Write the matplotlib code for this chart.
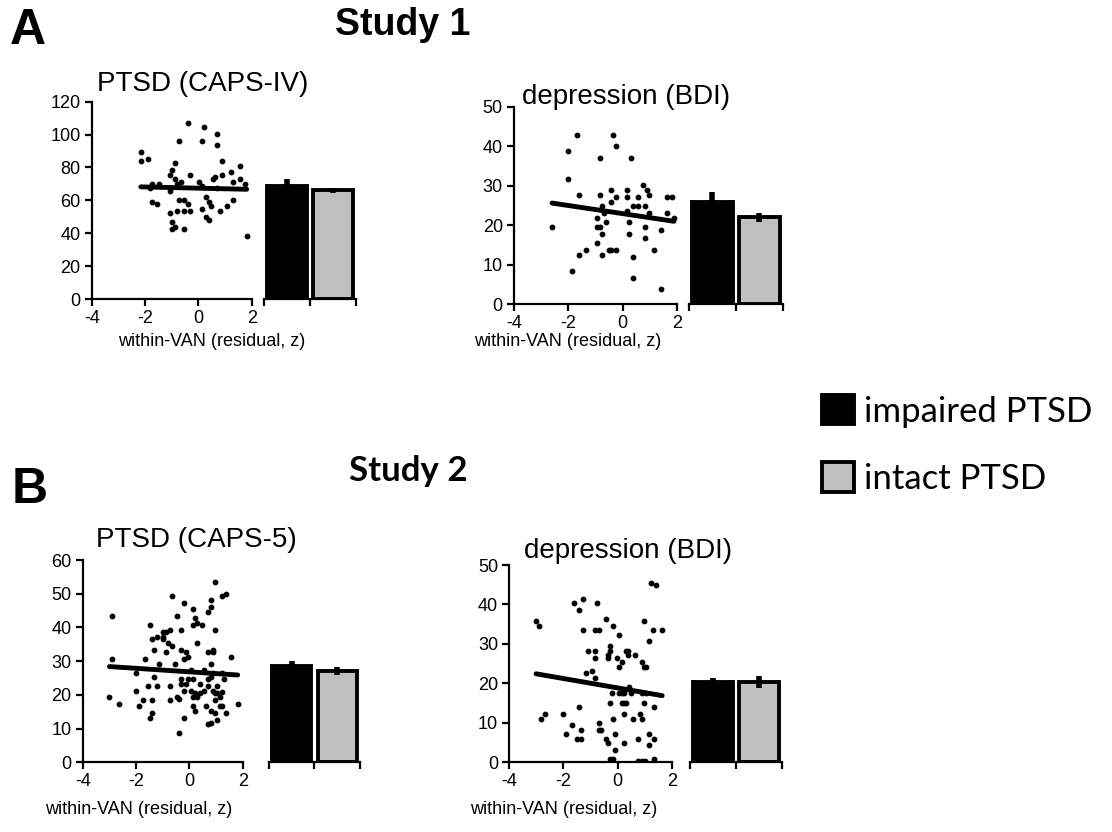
import matplotlib
matplotlib.use("Agg")
import matplotlib.pyplot as plt
from matplotlib.patches import Patch
import numpy as np

plt.rcParams['font.family'] = ['Liberation Sans', 'DejaVu Sans']
plt.rcParams['axes.unicode_minus'] = False

# Study 1, PTSD (CAPS-IV)
a1_x = [-2.16, -2.16, -1.9, -1.74, -1.81, -1.48, -1.74, -1.56, -1.06, -0.98, -0.89, -0.71, -0.89, -0.8,
        -0.64, -1.06, -0.73, -0.55, -1.06, -0.8, -0.55, -0.98, -0.89, -0.98, -0.55, -0.38, -0.3, -0.38,
        -0.3, 0.04, 0.13, 0.13, 0.21, 0.13, 0.3, 0.39, 0.46, 0.3, 0.39, 0.55, 0.64, 0.71, 0.71, 0.89,
        0.89, 0.8, 1.06, 1.23, 1.31, 1.31, 1.56, 1.56, 1.73, 1.81, 0.71]
a1_y = [89.1, 83.8, 85.2, 70.2, 67.3, 70.2, 59.0, 57.8, 75.7, 78.3, 82.6, 95.9, 72.8, 70.2,
        71.4, 65.9, 60.4, 60.4, 52.1, 53.5, 53.5, 46.7, 44.0, 42.6, 42.6, 107.1, 75.7, 57.8,
        53.5, 71.4, 68.8, 95.9, 104.3, 55.0, 61.9, 59.0, 56.4, 49.7, 48.1, 72.8, 74.2, 100.4, 93.5, 83.8,
        75.7, 53.5, 56.4, 77.1, 71.4, 60.4, 81.1, 72.8, 70.2, 38.5, 67.3]
a1_fit = (-0.37, 67.4)
a1_bars = [69, 66]
a1_err = [4, 1.3]

# Study 1, depression (BDI)
a2_x = [-2.6, -2.01, -1.69, -2.01, -1.6, -1.86, -1.6, -1.34, -0.85, -0.85, -0.77, -0.43, -0.43, -0.26,
        -0.35, -0.26, -0.94, -0.94, -0.85, -0.61, -0.77, -0.94, -0.77, -0.52, -0.43, -0.26, -0.68, 0.15,
        0.15, 0.15, 0.32, 0.39, 0.56, 0.56, 0.24, 0.24, 0.39, 0.39, 0.74, 0.9, 0.98, 0.81, 0.98, 0.81,
        0.81, 1.14, 1.4, 1.4, 1.65, 1.82, 1.65, 1.89]
a2_y = [19.5, 38.9, 43.0, 31.8, 27.7, 8.5, 12.5, 13.7, 37.1, 27.7, 24.8, 29.0, 26.0, 27.1,
        43.0, 40.0, 21.9, 19.5, 19.5, 20.7, 17.8, 15.5, 12.5, 13.7, 13.7, 13.7, 23.1, 29.0,
        27.1, 23.7, 37.1, 24.8, 27.1, 24.8, 20.7, 17.8, 12.0, 6.7, 30.1, 29.0, 27.7, 24.8, 23.1, 19.5,
        16.7, 13.7, 18.9, 3.7, 27.1, 27.1, 23.1, 21.9]
a2_fit = (-1.03, 22.94)
a2_bars = [26, 22]
a2_err = [2.5, 1.2]

# Study 2, PTSD (CAPS-5)
b1_x = [-2.91, -2.91, -3.0, -2.65, -1.99, -1.99, -1.9, -1.74, -1.65, -1.56, -1.48, -1.39, -1.39, -1.48,
        -1.39, -1.31, -1.31, -1.22, -1.22, -1.14, -0.98, -0.89, -0.98, -0.98, -0.89, -0.81, -0.73, -0.64,
        -0.64, -0.73, -0.73, -0.55, -0.46, -0.3, -0.3, -0.21, -0.21, -0.12, -0.04, -0.46, -0.39, -0.39,
        -0.21, -0.3, -0.3, -0.21, -0.12, -0.04, 0.05, 0.05, 0.13, 0.21, 0.3, 0.13, 0.46, 0.3, 0.13, 0.13,
        0.13, 0.21, 0.3, 0.38, 0.38, 0.21, 0.54, 0.55, 0.63, 0.71, 0.8, 0.8, 0.96, 0.89, 0.89, 0.71, 0.8,
        0.8, 0.71, 0.89, 0.71, 0.96, 0.89, 0.96, 0.96, 1.05, 1.05, 1.14, 0.8, 0.96, 0.71, 0.8, 1.05, 1.14,
        1.23, 1.23, 1.23, 1.3, 1.39, 1.23, 1.39, 1.56, 1.81]
b1_y = [43.4, 30.6, 19.3, 17.3, 26.6, 21.2, 16.6, 18.6, 30.6, 22.5, 40.6, 36.7, 18.6, 13.2,
        14.6, 33.3, 25.3, 22.5, 37.3, 29.2, 38.6, 38.6, 37.3, 36.7, 32.6, 35.3, 39.3, 49.4,
        34.6, 22.5, 18.6, 29.2, 43.4, 39.3, 33.3, 47.3, 30.6, 32.6, 31.3, 19.3, 18.7, 8.6,
        13.2, 24.6, 23.2, 21.2, 23.2, 24.6, 27.3, 21.2, 45.4, 42.7, 41.3, 40.6, 40.6, 35.3, 24.6, 19.3,
        16.6, 15.3, 19.3, 23.2, 20.6, 20.6, 27.3, 21.2, 16.6, 44.7, 46.0, 48.0, 39.3, 33.3, 32.6, 32.6, 29.2,
        25.3, 24.6, 26.6, 22.6, 53.4, 21.2, 20.6, 18.6, 22.5, 20.6, 19.3, 15.3, 14.6, 11.3, 11.6, 12.5, 16.6,
        16.6, 20.7, 26.6, 24.6, 14.6, 49.4, 50.0, 31.3, 17.3]
b1_fit = (-0.52, 26.83)
b1_bars = [28.7, 27.0]
b1_err = [1.3, 1.2]

# Study 2, depression (BDI)
b2_x = [-3.01, -2.91, -2.84, -2.67, -2.02, -1.92, -1.67, -1.51, -1.34, -1.34, -1.43, -1.6, -1.27, -1.43,
        -1.27, -0.85, -0.68, -0.76, -1.09, -0.85, -0.85, -1.18, -0.93, -0.85, -0.68, -0.68, -0.6, -0.44,
        -0.35, -0.26, -0.18, -0.1, -0.1, -0.44, -0.18, 0.07, -0.26, -0.26, -0.35, -0.35, -0.02, 0.15, 0.07,
        0.32, 0.39, 0.39, 0.65, 0.9, 0.98, 1.07, 0.98, 1.15, 1.32, 1.65, 1.24, 1.41, -0.19, 0.07, 0.15,
        0.24, 0.41, 0.49, 0.15, 0.24, 0.32, -0.26, -0.18, 0.24, 0.57, 0.82, 0.9, 0.98, 0.9, 1.07, 1.33,
        0.24, 0.74, 1.15, 1.15, 1.33, 0.74, 0.9, 1.0, 1.33]
b2_y = [35.8, 34.6, 11.0, 12.2, 12.2, 7.1, 9.3, 5.9, 5.9, 8.2, 14.0, 40.3, 41.4, 38.6,
        33.5, 33.5, 33.5, 40.3, 28.3, 28.3, 26.5, 22.5, 23.1, 21.4, 9.9, 8.2, 8.2, 5.9,
        4.8, 0.8, 0.8, 3.1, 7.1, 36.3, 34.6, 32.3, 29.4, 28.3, 27.1, 26.5, 26.5, 25.4, 24.2,
        28.3, 28.3, 27.1, 27.1, 25.4, 24.2, 24.2, 35.8, 30.6, 33.5, 33.5, 45.5, 45.0, 17.4, 17.4, 17.4,
        17.4, 19.1, 17.4, 15.1, 15.1, 15.1, 15.1, 11.0, 12.2, 11.0, 12.2, 11.0, 15.1, 17.4, 17.4, 14.0,
        4.8, 5.9, 7.1, 4.2, 5.9, 0.3, 0.3, 0.3, 0.8]
b2_fit = (-1.19, 18.81)
b2_bars = [20.2, 20.4]
b2_err = [1.2, 1.5]

groups = ["impaired PTSD", "intact PTSD"]
bar_colors = ["black", "#c0c0c0"]
xlab = "within-VAN (residual, z)"

W, H = 1112, 832
fig = plt.figure(figsize=(W / 100, H / 100), dpi=100)


def panel(sc_rect, bar_rect, xs, ys, fit, bars, err, ymax, ystep):
    ax = fig.add_axes(sc_rect)
    ax.scatter(xs, ys, s=10, color="black", zorder=3)
    lx = np.array([min(xs), max(xs)])
    ax.plot(lx, fit[0] * lx + fit[1], color="black", lw=3.5, solid_capstyle="round", zorder=4)
    ax.set_xlim(-4, 2)
    ax.set_ylim(0, ymax)
    ax.set_xticks([-4, -2, 0, 2])
    ax.set_yticks(np.arange(0, ymax + 1, ystep))
    for s in ["top", "right"]:
        ax.spines[s].set_visible(False)
    for s in ["left", "bottom"]:
        ax.spines[s].set_linewidth(1.6)
    ax.tick_params(direction="out", length=5, width=1.6, labelsize=13, pad=3)
    ax.patch.set_alpha(0)

    bx = fig.add_axes(bar_rect)
    bx.bar([0, 1], bars, width=0.86, color=bar_colors, edgecolor="black", linewidth=2.8, zorder=2)
    bx.errorbar([0, 1], bars, yerr=err, fmt="none", ecolor="black", elinewidth=4, capsize=0, zorder=3)
    bx.set_xlim(-0.5, 1.5)
    bx.set_ylim(0, ymax)
    bx.set_xticks([-0.5, 0.5, 1.5])
    bx.set_xticklabels([])
    bx.set_yticks([])
    for s in ["top", "right", "left"]:
        bx.spines[s].set_visible(False)
    bx.spines["bottom"].set_linewidth(1.6)
    bx.tick_params(axis="x", direction="out", length=5, width=1.6)
    bx.patch.set_alpha(0)


panel([0.0825, 0.6406, 0.1439, 0.2372], [0.2374, 0.6406, 0.0827, 0.2372],
      a1_x, a1_y, a1_fit, a1_bars, a1_err, 120, 20)
panel([0.4622, 0.6346, 0.1466, 0.2368], [0.6196, 0.6346, 0.0845, 0.2368],
      a2_x, a2_y, a2_fit, a2_bars, a2_err, 50, 10)
panel([0.0744, 0.0838, 0.1439, 0.2431], [0.2419, 0.0838, 0.0818, 0.2431],
      b1_x, b1_y, b1_fit, b1_bars, b1_err, 60, 10)
panel([0.4580, 0.0841, 0.1460, 0.2368], [0.6205, 0.0841, 0.0827, 0.2368],
      b2_x, b2_y, b2_fit, b2_bars, b2_err, 50, 10)


def ftext(x, y, s, **kw):
    fig.text(x / W, 1 - y / H, s, va="center", **kw)


ftext(10, 31, "A", fontsize=36, fontweight="bold", ha="left")
ftext(12, 490, "B", fontsize=36, fontweight="bold", ha="left")
ftext(403, 25, "Study 1", fontsize=27, fontweight="bold", ha="center")
ftext(408, 471, "Study 2", fontsize=25, fontweight="bold", ha="center", family=["Lato", "DejaVu Sans"])
ftext(97, 84, "PTSD (CAPS-IV)", fontsize=20, ha="left")
ftext(522, 97, "depression (BDI)", fontsize=20, ha="left")
ftext(96, 540, "PTSD (CAPS-5)", fontsize=20, ha="left")
ftext(524, 551, "depression (BDI)", fontsize=20, ha="left")
ftext(118, 342, xlab, fontsize=13, ha="left")
ftext(474, 342, xlab, fontsize=13, ha="left")
ftext(45, 809, xlab, fontsize=13, ha="left")
ftext(470, 809, xlab, fontsize=13, ha="left")

handles = [Patch(facecolor=c, edgecolor="black", linewidth=2.8) for c in bar_colors]
fig.legend(handles, groups, loc="center left", bbox_to_anchor=(822 / W, 1 - 445 / H),
           frameon=False, borderpad=0, borderaxespad=0,
           prop={"family": ["Lato", "DejaVu Sans"], "size": 25},
           handlelength=0.92, handleheight=0.92, handletextpad=0.3, labelspacing=1.0)

fig.savefig("out.png", dpi=100)
